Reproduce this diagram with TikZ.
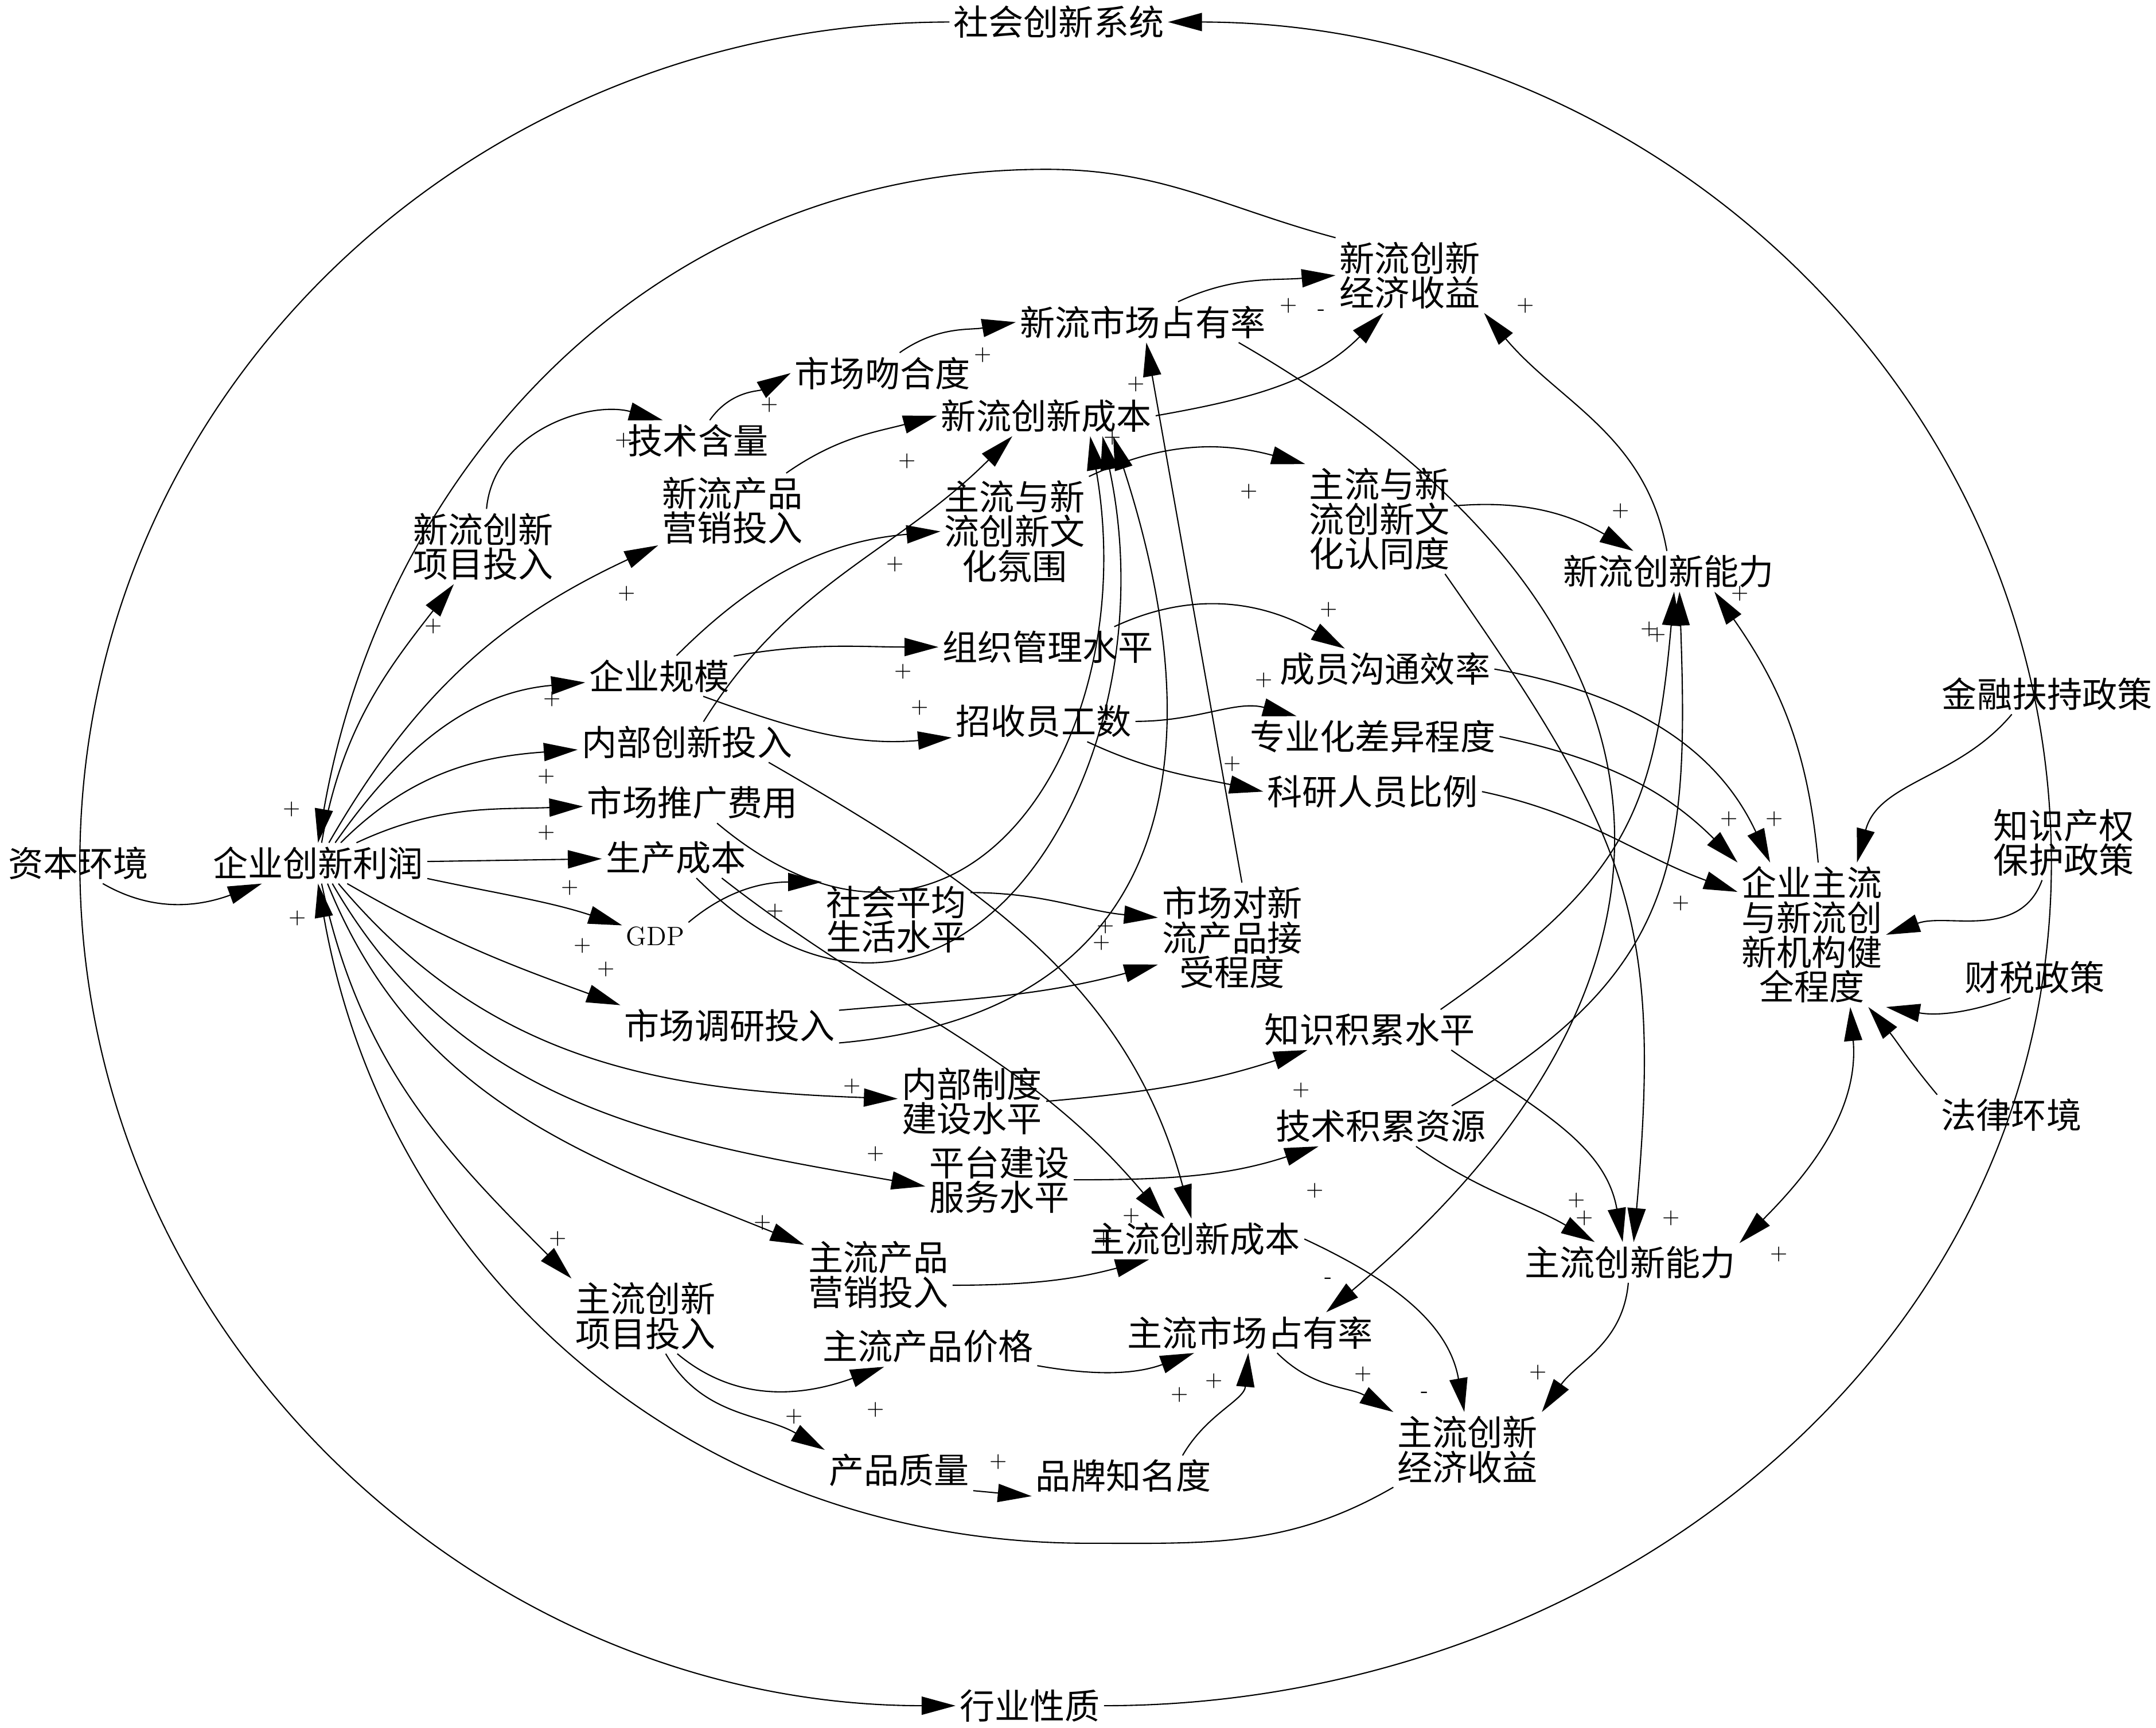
\documentclass[tikz,border=0pt]{standalone}
\usepackage{fontspec}
\newfontfamily\cjk{Noto Sans CJK SC}
\usetikzlibrary{arrows.meta}
\tikzset{
  var/.style={inner sep=1.5pt, align=center, font=\cjk\fontsize{14.5}{14.3}\selectfont},
  sgn/.style={inner sep=0pt, font=\fontsize{9}{9}\selectfont},
  causal/.style={line width=0.5pt, -{Triangle[length=14pt,width=7.5pt]}},
  twoway/.style={line width=0.5pt, {Triangle[length=14pt,width=7.5pt]}-{Triangle[length=14pt,width=7.5pt]}},
}
\begin{document}
\begin{tikzpicture}[x=0.02cm,y=0.02cm]
\useasboundingbox (0,0) rectangle (1566,-1255);

% Variabili
\node[var] (soc) at (769,-16) {社会创新系统};
\node[var] (ind) at (748,-1239) {行业性质};
\node[var] (cap) at (57,-627) {资本环境};
\node[var] (profit) at (231,-627) {企业创新利润};
\node[var] (nproj) at (351,-397) {新流创新\\项目投入};
\node[var] (tech) at (507,-320) {技术含量};
\node[var] (fit) at (641,-271) {市场吻合度};
\node[var] (nshare) at (830,-234) {新流市场占有率};
\node[var] (nrev) at (1024,-200) {新流创新\\经济收益};
\node[var] (ncost) at (760,-302) {新流创新成本};
\node[var] (nmkt) at (532,-371) {新流产品\\营销投入};
\node[var] (atmo) at (737,-386) {主流与新\\流创新文\\化氛围};
\node[var] (ident) at (1002,-377) {主流与新\\流创新文\\化认同度};
\node[var] (nabil) at (1212,-415) {新流创新能力};
\node[var] (scale) at (479,-491) {企业规模};
\node[var] (org) at (761,-470) {组织管理水平};
\node[var] (comm) at (1006,-486) {成员沟通效率};
\node[var] (inner) at (499,-539) {内部创新投入};
\node[var] (hire) at (758,-524) {招收员工数};
\node[var] (spec) at (997,-535) {专业化差异程度};
\node[var] (promo) at (503,-583) {市场推广费用};
\node[var] (rnd) at (997,-575) {科研人员比例};
\node[var] (prod) at (491,-623) {生产成本};
\node[inner sep=1.5pt, font=\fontsize{11}{11}\selectfont] (gdp) at (476,-680) {GDP};
\node[var] (living) at (651,-668) {社会平均\\生活水平};
\node[var] (accept) at (895,-681) {市场对新\\流产品接\\受程度};
\node[var] (inst) at (1316,-679) {企业主流\\与新流创\\新机构健\\全程度};
\node[var] (fin) at (1487,-504) {金融扶持政策};
\node[var] (ip) at (1499,-612) {知识产权\\保护政策};
\node[var] (tax) at (1478,-710) {财税政策};
\node[var] (law) at (1461,-810) {法律环境};
\node[var] (survey) at (530,-745) {市场调研投入};
\node[var] (know) at (995,-748) {知识积累水平};
\node[var] (sys) at (706,-800) {内部制度\\建设水平};
\node[var] (techres) at (1003,-818) {技术积累资源};
\node[var] (plat) at (726,-857) {平台建设\\服务水平};
\node[var] (mcost) at (868,-900) {主流创新成本};
\node[var] (mabil) at (1184,-917) {主流创新能力};
\node[var] (mmkt) at (638,-926) {主流产品\\营销投入};
\node[var] (mproj) at (469,-956) {主流创新\\项目投入};
\node[var] (price) at (674,-978) {主流产品价格};
\node[var] (mshare) at (908,-968) {主流市场占有率};
\node[var] (mrev) at (1066,-1053) {主流创新\\经济收益};
\node[var] (qual) at (653,-1068) {产品质量};
\node[var] (brand) at (816,-1072) {品牌知名度};

% Cerchio esterno
\coordinate (oL) at (58,-627);
\coordinate (oR) at (1490,-627);
\draw[causal] (soc.west) to[out=180,in=90] (oL) to[out=-90,in=180] (ind.west);
\draw[causal] (ind.east) to[out=0,in=-90] (oR) to[out=90,in=0] (soc.east);

% Anello interno
\coordinate (iT) at (760,-123);
\coordinate (iB) at (790,-1121);
\draw[causal] (nrev.north west) to[out=165,in=0] (iT) to[out=180,in=80] (profit.north);
\draw[causal] (mrev.south west) to[out=-150,in=0] (iB) to[out=180,in=-80] (profit.south);
\draw[causal] (cap.-40) to[out=-30,in=200] (profit.200);

% Dal profitto
\draw[causal] (profit.80) to[out=80,in=232] (nproj.232);
\draw[causal] (profit.62) to[out=60,in=205] (nmkt.205);
\draw[causal] (profit.50) to[out=55,in=185] (scale.185);
\draw[causal] (profit.42) to[out=45,in=184] (inner.184);
\draw[causal] (profit.28) to[out=25,in=182] (promo.182);
\draw[causal] (profit) -- (prod);
\draw[causal] (profit.-8) to[out=-12,in=162] (gdp.162);
\draw[causal] (profit.-35) to[out=-30,in=160] (survey.north west);
\draw[causal] (profit.-45) to[out=-50,in=178] (sys.178);
\draw[causal] (profit.-55) to[out=-60,in=170] (plat.185);
\draw[causal] (profit.-65) to[out=-68,in=158] (mmkt.158);
\draw[causal] (profit.-80) to[out=-78,in=135] (mproj.north west);

% Ramo nuovo
\draw[causal] (nproj.85) to[out=85,in=165] (tech.150);
\draw[causal] (tech.60) to[out=55,in=210] (fit.west);
\draw[causal] (fit.50) to[out=35,in=190] (nshare.west);
\draw[causal] (nshare.30) to[out=25,in=185] (nrev.west);
\draw[causal] (ncost.east) to[out=10,in=225] (nrev.235);
\draw[causal] (nmkt.35) to[out=35,in=195] (ncost.west);
\draw[causal] (inner.51) to[out=58,in=225] (ncost.211);
\draw[causal] (promo.-40) to[out=-40,in=-80,looseness=1.5] (ncost.-25);
\draw[causal] (prod.-45) to[out=-45,in=-78,looseness=1.5] (ncost.-20);
\draw[causal] (survey.-9) to[out=5,in=-72,looseness=1.3] (ncost.-17);
\draw[causal] (accept.80) -- (nshare.-80);
\draw[causal] (nabil.95) to[out=100,in=-50] (nrev.south east);
\draw[causal] (gdp.north east) to[out=40,in=180] (living.north west);
\draw[causal] (living.20) to[out=0,in=175] (accept.165);
\draw[causal] (survey.8) to[out=5,in=195] (accept.200);

% Cultura e organizzazione
\draw[causal] (scale.50) to[out=45,in=185] (atmo.west);
\draw[causal] (scale.15) to[out=10,in=180] (org.west);
\draw[causal] (scale.-25) to[out=-20,in=185] (hire.190);
\draw[causal] (org.17) to[out=25,in=150] (comm.153);
\draw[causal] (hire.east) to[out=0,in=165] (spec.165);
\draw[causal] (hire.-25) to[out=-25,in=168] (rnd.west);
\draw[causal] (atmo.north east) to[out=25,in=165] (ident.north west);
\draw[causal] (ident.10) to[out=5,in=150] (nabil.150);
\draw[causal] (ident.-40) to[out=-55,in=85,looseness=1.2] (mabil.80);

% Meccanismi e politiche
\draw[causal] (comm.east) to[out=-10,in=115] (inst.120);
\draw[causal] (spec.east) to[out=-12,in=135] (inst.north west);
\draw[causal] (rnd.east) to[out=-12,in=160] (inst.150);
\draw[causal] (fin.210) to[out=-130,in=75] (inst.58);
\draw[causal] (ip.-120) to[out=-110,in=20] (inst.east);
\draw[causal] (tax.-140) to[out=-160,in=-10] (inst.south east);
\draw[causal] (law.north west) to[out=130,in=-50] (inst.-52);
\draw[twoway] (inst.-62) to[out=-85,in=45] (mabil.10);
\draw[causal] (inst.85) to[out=95,in=-55] (nabil.-24);

% Ramo principale
\draw[causal] (nshare.-12) to[out=-30,in=40,looseness=1.4] (mshare.15);
\draw[causal] (prod.-24) to[out=-38,in=130] (mcost.146);
\draw[causal] (inner.-14) to[out=-30,in=105] (mcost.100);
\draw[causal] (plat.east) to[out=0,in=198] (techres.198);
\draw[causal] (sys.east) to[out=5,in=198] (know.198);
\draw[causal] (know.-14) to[out=-35,in=100] (mabil.110);
\draw[causal] (techres.-30) to[out=-35,in=150] (mabil.150);
\draw[causal] (know.16) to[out=35,in=-95,looseness=1.2] (nabil.-75);
\draw[causal] (techres.16) to[out=30,in=-88,looseness=1.2] (nabil.-62);
\draw[causal] (mabil.-95) to[out=-95,in=55] (mrev.north east);
\draw[causal] (mcost.east) to[out=-25,in=100] (mrev.95);
\draw[causal] (mshare.-37) to[out=-45,in=150] (mrev.north west);
\draw[causal] (mmkt.-8) to[out=0,in=195] (mcost.204);
\draw[causal] (price.-10) to[out=-10,in=200] (mshare.200);
\draw[causal] (brand.19) to[out=60,in=-95] (mshare.-95);
\draw[causal] (mproj.-50) to[out=-40,in=200] (price.205);
\draw[causal] (mproj.-62) to[out=-60,in=150] (qual.north west);
\draw[causal] (qual.south east) -- (brand.south west);

% Polarita
\foreach \x/\y [count=\i] in {212/588, 216/667, 315/455, 455/431, 401/508,
  397/564, 397/605, 414/645, 423/687, 440/704, 453/320, 559/294, 714/258,
  936/222, 659/335, 650/410, 825/279, 808/318, 907/357, 1108/222, 1177/371,
  1264/431, 1198/457, 1204/461, 965/443, 656/488, 668/514, 918/494, 895/555,
  1256/595, 1289/595, 1221/656, 563/662, 803/673, 800/685, 619/789, 636/838,
  554/888, 405/900, 945/792, 955/865, 822/883, 802/900, 1145/872, 1151/885,
  1214/885, 1292/911, 990/998, 1117/997, 882/1003, 857/1013, 636/1024,
  577/1029, 725/1062}
  \node[sgn] (plus\i) at (\x,-\y) {+};
\foreach \x/\y [count=\i] in {960/227, 965/930, 1035/1013}
  \node[sgn] (minus\i) at (\x,-\y) {-};
\end{tikzpicture}
\end{document}
